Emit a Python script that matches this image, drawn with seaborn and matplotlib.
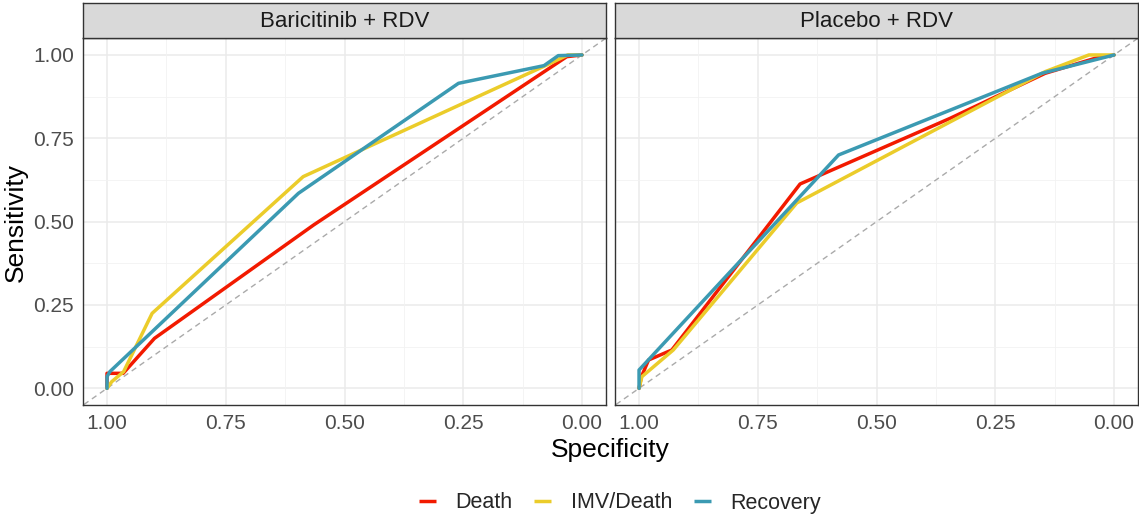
import numpy as np
import pandas as pd
import matplotlib
matplotlib.use("Agg")
import matplotlib.pyplot as plt
import seaborn as sns
from matplotlib.lines import Line2D

# ---- data (specificity, sensitivity) ----
panels = ["Baricitinib + RDV", "Placebo + RDV"]
outcomes = ["Death", "IMV/Death", "Recovery"]
colors = ["#F21A00", "#EBCC2A", "#3B9AB2"]

bari_death_spec = [1.00, 1.00, 0.966, 0.90, 0.565, 0.032, 0.00]
bari_death_sens = [0.00, 0.045, 0.045, 0.15, 0.49, 0.995, 1.00]
bari_imv_spec = [1.00, 0.99, 0.965, 0.905, 0.587, 0.074, 0.03, 0.00]
bari_imv_sens = [0.00, 0.02, 0.05, 0.225, 0.635, 0.97, 1.00, 1.00]
bari_rec_spec = [1.00, 1.00, 0.994, 0.597, 0.26, 0.08, 0.05, 0.00]
bari_rec_sens = [0.00, 0.035, 0.05, 0.585, 0.915, 0.968, 0.998, 1.00]

plac_death_spec = [1.00, 0.995, 0.98, 0.931, 0.661, 0.345, 0.145, 0.04, 0.00]
plac_death_sens = [0.00, 0.035, 0.085, 0.115, 0.613, 0.81, 0.945, 0.99, 1.00]
plac_imv_spec = [1.00, 0.994, 0.928, 0.668, 0.145, 0.053, 0.00]
plac_imv_sens = [0.00, 0.035, 0.115, 0.556, 0.95, 1.00, 1.00]
plac_rec_spec = [1.00, 1.00, 0.58, 0.152, 0.00]
plac_rec_sens = [0.00, 0.055, 0.70, 0.945, 1.00]

ticks = [0.00, 0.25, 0.50, 0.75, 1.00]
tick_labels = ["0.00", "0.25", "0.50", "0.75", "1.00"]

def frame(panel, outcome, spec, sens):
    return pd.DataFrame({"panel": panel, "outcome": outcome,
                         "spec": spec, "sens": sens})

df = pd.concat([
    frame(panels[0], outcomes[0], bari_death_spec, bari_death_sens),
    frame(panels[0], outcomes[1], bari_imv_spec, bari_imv_sens),
    frame(panels[0], outcomes[2], bari_rec_spec, bari_rec_sens),
    frame(panels[1], outcomes[0], plac_death_spec, plac_death_sens),
    frame(panels[1], outcomes[1], plac_imv_spec, plac_imv_sens),
    frame(panels[1], outcomes[2], plac_rec_spec, plac_rec_sens),
], ignore_index=True)

sns.set_theme(style="white")
plt.rcParams["font.family"] = ["Liberation Sans", "DejaVu Sans"]

W, H = 1139, 520
fig = plt.figure(figsize=(W / 100, H / 100), dpi=100)

ax_left_px = [83.25, 615.3]
ax_w_px = 522.5
ax_bottom_px = 405.0
ax_h_px = 366.7
strip_h_px = 35.0

palette = dict(zip(outcomes, colors))
for i, panel in enumerate(panels):
    ax = fig.add_axes([ax_left_px[i] / W, (H - ax_bottom_px) / H,
                       ax_w_px / W, ax_h_px / H])
    for v in ticks:
        ax.axvline(v, color="#EBEBEB", lw=1.1, zorder=0)
        ax.axhline(v, color="#EBEBEB", lw=1.1, zorder=0)
    for v in [0.125, 0.375, 0.625, 0.875]:
        ax.axvline(v, color="#F2F2F2", lw=0.6, zorder=0)
        ax.axhline(v, color="#F2F2F2", lw=0.6, zorder=0)
    ax.axline((1, 0), (0, 1), color="#AAAAAA", lw=1.0, ls=(0, (4, 3)), zorder=1)
    sub = df[df["panel"] == panel]
    sns.lineplot(data=sub, x="spec", y="sens", hue="outcome", units="outcome",
                 estimator=None, sort=False, hue_order=outcomes,
                 palette=palette, lw=2.5, ax=ax, legend=False, zorder=3)
    ax.set_xlim(1.05, -0.05)
    ax.set_ylim(-0.05, 1.05)
    ax.set_xticks(ticks)
    ax.set_xticklabels(tick_labels)
    ax.set_yticks(ticks)
    if i == 0:
        ax.set_yticklabels(tick_labels)
    else:
        ax.set_yticklabels([])
    ax.set_xlabel("")
    ax.set_ylabel("")
    ax.tick_params(axis="both", labelsize=15, labelcolor="#4D4D4D",
                   color="#333333", length=4, width=0.9, pad=2.5, direction="out")
    if i == 1:
        ax.tick_params(axis="y", length=0)
    for s in ax.spines.values():
        s.set_color("#333333")
        s.set_linewidth(1.0)
    sax = fig.add_axes([ax_left_px[i] / W, (H - ax_bottom_px + ax_h_px) / H,
                        ax_w_px / W, strip_h_px / H])
    sax.set_xticks([])
    sax.set_yticks([])
    sax.set_facecolor("#D9D9D9")
    for s in sax.spines.values():
        s.set_color("#333333")
        s.set_linewidth(1.0)
    sax.text(0.5, 0.47, panel, ha="center", va="center", fontsize=16,
             color="#1A1A1A", transform=sax.transAxes)

fig.text(610 / W, 1 - 450 / H, "Specificity", ha="center", va="center",
         fontsize=19, color="black")
fig.text(16 / W, 1 - 222 / H, "Sensitivity", ha="center", va="center",
         rotation=90, fontsize=19, color="black")

handles = [Line2D([0], [0], color=c, lw=2.5, solid_capstyle="butt") for c in colors]
fig.legend(handles, outcomes, loc="center", bbox_to_anchor=(620 / W, 1 - 503 / H),
           ncol=3, frameon=False, fontsize=15.5, handlelength=0.8,
           handletextpad=0.9, columnspacing=1.0)

fig.savefig("out.png", dpi=100)
